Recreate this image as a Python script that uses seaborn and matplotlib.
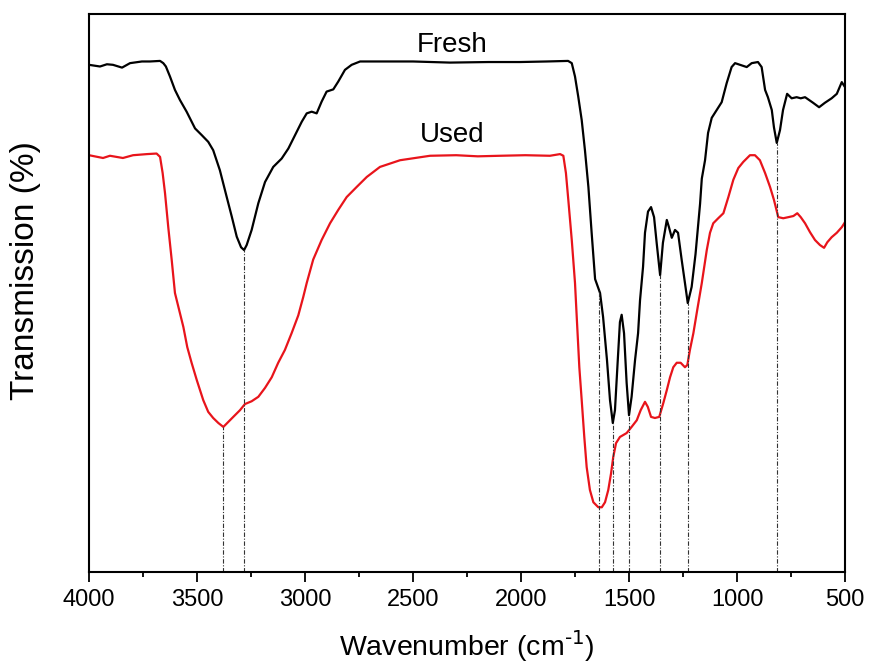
import numpy as np
import pandas as pd
import matplotlib
matplotlib.use("Agg")
import matplotlib.pyplot as plt
import seaborn as sns

# FTIR spectra (transmission, arbitrary %) of the fresh and used sample
fresh_wn = [4000, 3949, 3917, 3889, 3847, 3810, 3755, 3718, 3671, 3656, 3644, 3625,
            3602, 3579, 3548, 3509, 3478, 3448, 3425, 3394, 3363, 3339, 3316, 3296,
            3282, 3270, 3247, 3216, 3185, 3147, 3108, 3077, 3046, 3015, 2992, 2969,
            2946, 2923, 2900, 2869, 2846, 2815, 2784, 2745, 2653, 2500, 2329, 2150,
            2005, 1880, 1782, 1765, 1750, 1735, 1719, 1704, 1688, 1673, 1657, 1634,
            1620, 1602, 1588, 1575, 1565, 1552, 1542, 1534, 1523, 1511, 1500, 1488,
            1472, 1458, 1449, 1435, 1426, 1412, 1398, 1384, 1372, 1356, 1343, 1325,
            1315, 1302, 1287, 1273, 1256, 1241, 1228, 1210, 1192, 1171, 1163, 1148,
            1134, 1117, 1094, 1071, 1048, 1025, 1009, 986, 955, 932, 903, 886, 870,
            857, 839, 829, 816, 801, 787, 768, 747, 724, 705, 685, 648, 620, 593,
            562, 538, 515, 500]
fresh_t = [90.9, 90.6, 91.0, 90.9, 90.4, 91.2, 91.5, 91.5, 91.6, 91.2, 90.6, 88.8,
           86.4, 84.6, 82.5, 79.5, 78.3, 77.1, 75.6, 72.0, 67.3, 63.7, 60.1, 58.2,
           57.7, 58.6, 61.3, 66.1, 69.9, 72.6, 74.1, 75.9, 78.3, 80.7, 82.2, 82.5,
           82.2, 84.3, 86.1, 86.5, 87.9, 90.0, 90.9, 91.5, 91.5, 91.5, 91.3, 91.4,
           91.4, 91.5, 91.6, 91.2, 88.8, 85.2, 81.0, 75.6, 69.0, 60.8, 52.5, 50.0,
           45.7, 38.0, 30.8, 26.7, 29.0, 38.0, 44.8, 46.1, 42.8, 33.9, 28.1, 31.4,
           38.0, 42.8, 48.7, 54.7, 60.8, 64.6, 65.4, 63.6, 59.0, 53.2, 59.0, 63.1,
           61.8, 59.9, 61.3, 60.8, 55.9, 51.8, 48.2, 51.1, 57.0, 66.0, 70.5, 73.8,
           78.7, 81.4, 82.8, 84.2, 87.6, 90.5, 91.2, 90.9, 90.5, 91.2, 91.4, 90.5,
           86.4, 85.1, 82.8, 79.7, 76.9, 79.2, 82.8, 85.7, 84.9, 85.1, 84.9, 85.1,
           84.1, 83.3, 84.1, 84.9, 85.7, 87.8, 86.9]

used_wn = [4000, 3935, 3903, 3843, 3796, 3731, 3687, 3671, 3659, 3648, 3633, 3617,
           3602, 3579, 3563, 3545, 3525, 3501, 3471, 3448, 3425, 3401, 3378, 3355,
           3332, 3301, 3278, 3247, 3216, 3185, 3154, 3124, 3093, 3062, 3031, 3008,
           2992, 2962, 2923, 2884, 2846, 2807, 2761, 2714, 2653, 2560, 2421, 2300,
           2200, 2097, 1980, 1866, 1819, 1804, 1792, 1781, 1765, 1750, 1742, 1730,
           1719, 1707, 1696, 1681, 1665, 1642, 1626, 1611, 1596, 1583, 1573, 1560,
           1542, 1511, 1488, 1464, 1446, 1426, 1413, 1398, 1380, 1360, 1341, 1325,
           1310, 1295, 1279, 1261, 1241, 1230, 1218, 1202, 1184, 1163, 1140, 1125,
           1110, 1087, 1063, 1040, 1017, 994, 971, 940, 917, 894, 870, 847, 829,
           809, 786, 762, 739, 721, 705, 685, 662, 639, 616, 597, 582, 562, 538,
           515, 500]
used_t = [74.7, 74.2, 74.6, 74.2, 74.7, 74.9, 75.0, 74.4, 71.5, 67.9, 61.8, 55.9,
          50.0, 46.4, 43.9, 40.3, 37.5, 34.4, 30.8, 28.7, 27.6, 26.7, 26.0, 26.9,
          27.8, 29.0, 30.1, 30.6, 31.4, 33.0, 34.9, 37.5, 39.8, 42.8, 46.0, 49.3,
          51.8, 56.0, 59.5, 62.5, 64.9, 67.2, 69.0, 70.8, 72.6, 73.8, 74.6, 74.7,
          74.5, 74.6, 74.7, 74.6, 74.9, 74.6, 71.5, 66.7, 59.5, 51.8, 45.7, 36.7,
          30.8, 24.2, 18.8, 14.7, 12.5, 11.6, 11.6, 12.5, 14.7, 17.7, 20.6, 23.1,
          24.2, 24.9, 26.0, 27.2, 29.0, 30.5, 29.6, 27.8, 27.6, 27.8, 30.3, 32.6,
          34.9, 36.7, 37.5, 37.5, 36.7, 37.1, 39.8, 42.8, 47.0, 51.8, 57.7, 60.8,
          62.5, 63.4, 64.3, 67.2, 70.3, 72.4, 73.5, 74.7, 74.7, 73.8, 71.5, 69.0,
          66.7, 63.6, 63.4, 63.6, 63.8, 64.3, 63.6, 62.5, 60.9, 59.5, 58.6, 58.1,
          59.1, 60.0, 60.8, 61.8, 62.7]

# band positions marked with drop lines (cm-1)
fresh_bands = [3282, 1639, 1575, 1500, 1356, 1228, 816]
used_bands = [3378]

series_names = ["Fresh", "Used"]
series_colors = ["#000000", "#e8141b"]

df = pd.concat([
    pd.DataFrame({"wn": fresh_wn, "T": fresh_t, "sample": "Fresh"}),
    pd.DataFrame({"wn": used_wn, "T": used_t, "sample": "Used"}),
])

sns.set_theme(style="ticks")
plt.rcParams["font.family"] = ["Liberation Sans", "DejaVu Sans"]
plt.rcParams["text.color"] = "black"
plt.rcParams["axes.labelcolor"] = "black"

fig = plt.figure(figsize=(8.69, 6.69), dpi=100)
ax = fig.add_axes([0.1024, 0.145, 0.870, 0.834])

sns.lineplot(data=df, x="wn", y="T", hue="sample", hue_order=series_names,
             palette=series_colors, estimator=None, sort=False, linewidth=1.6,
             legend=False, ax=ax)


def level_at(wn_list, t_list, x):
    return np.interp(x, wn_list[::-1], t_list[::-1])


drop_style = dict(colors="#333333", linewidths=0.8, linestyles=(0, (4, 1.5, 1, 1.5)))
ax.vlines(fresh_bands, 0, [level_at(fresh_wn, fresh_t, b) for b in fresh_bands], **drop_style)
ax.vlines(used_bands, 0, [level_at(used_wn, used_t, b) for b in used_bands], **drop_style)

ax.text(2320, 93.2, "Fresh", ha="center", va="baseline", fontsize=20, color="black")
ax.text(2320, 77.1, "Used", ha="center", va="baseline", fontsize=20, color="black")

ax.set_xlim(4000, 500)
ax.set_ylim(0, 100)
ax.set_xticks([4000, 3500, 3000, 2500, 2000, 1500, 1000, 500])
ax.set_xticks(np.arange(3750, 500, -500), minor=True)
ax.set_yticks([])
ax.tick_params(axis="x", which="major", direction="out", length=7.5, width=1.3,
               labelsize=17, pad=5, colors="black")
ax.tick_params(axis="x", which="minor", direction="out", length=3.8, width=1.3,
               colors="black")

for side in ["left", "right", "top", "bottom"]:
    ax.spines[side].set_visible(True)
    ax.spines[side].set_linewidth(1.5)
    ax.spines[side].set_color("black")

ax.set_xlabel("Wavenumber (cm$^{\\text{-1}}$)", fontsize=20.5, labelpad=12)
ax.set_ylabel("Transmission (%)", fontsize=24)
ax.yaxis.set_label_coords(-0.063, 0.541)

fig.savefig("out.png", dpi=100, facecolor="white")
